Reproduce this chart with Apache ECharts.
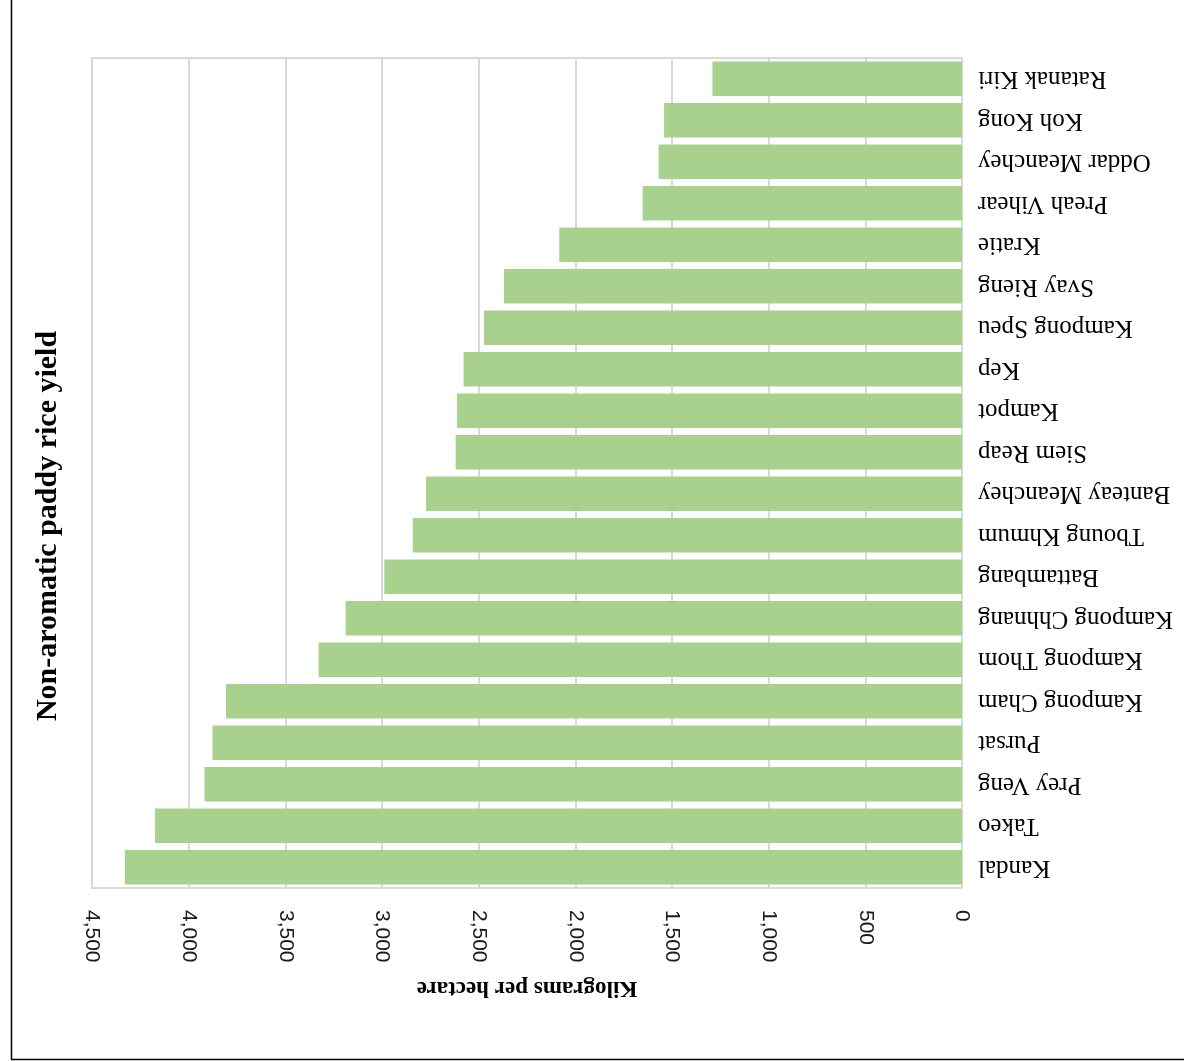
<!DOCTYPE html>
<html>
<head>
<meta charset="utf-8">
<script src="https://cdn.jsdelivr.net/npm/echarts@6/dist/echarts.min.js"></script>
<style>
html,body{margin:0;padding:0;background:#fff;}
#chart{width:1184px;height:1061px;}
</style>
</head>
<body>
<div id="chart"></div>
<script>
const provinces = ["Kandal","Takeo","Prey Veng","Pursat","Kampong Cham","Kampong Thom","Kampong Chhnang","Battambang","Tboung Khmum","Banteay Meanchey","Siem Reap","Kampot","Kep","Kampong Speu","Svay Rieng","Kratie","Preah Vihear","Oddar Meanchey","Koh Kong","Ratanak Kiri"];
const yieldKgPerHa = [4330,4174,3918,3877,3807,3328,3188,2988,2841,2772,2619,2612,2578,2472,2369,2083,1652,1569,1541,1291];
const titleText = "Non-aromatic paddy rice yield";
const axisTitle = "Kilograms per hectare";

const chart = echarts.init(document.getElementById('chart'), null, {renderer:'canvas'});
chart.setOption({
  backgroundColor:'#ffffff',
  animation:false,
  grid:{left:92,right:222,top:58,bottom:173,show:true,borderColor:'#d9d9d9',borderWidth:2,containLabel:false},
  xAxis:{
    type:'value', min:0, max:4500, interval:500, inverse:true, position:'bottom',
    axisLine:{show:false}, axisTick:{show:false},
    splitLine:{show:true,lineStyle:{color:'#d9d9d9',width:2}},
    axisLabel:{rotate:-90, margin:22, color:'#1a1a1a', fontFamily:'Liberation Sans', fontSize:21,
      formatter:function(v){return v.toLocaleString('en-US');}},
    name:axisTitle, nameLocation:'middle', nameRotate:180, nameGap:88,
    nameTextStyle:{fontFamily:'Liberation Serif', fontWeight:'bold', fontSize:23, color:'#000'}
  },
  yAxis:{
    type:'category', data:provinces, position:'right',
    axisLine:{show:false}, axisTick:{show:false}, splitLine:{show:false},
    axisLabel:{rotate:180, margin:16, color:'#000', fontFamily:'Liberation Serif', fontSize:25}
  },
  series:[{
    type:'bar', data:yieldKgPerHa, barCategoryGap:'17%',
    itemStyle:{color:'#a9d18e'}
  }],
  graphic:[
    {type:'text', x:48, y:526, rotation:Math.PI/2,
     style:{text:titleText, font:'bold 30px "Liberation Serif"', fill:'#000', align:'center', verticalAlign:'middle'}},
    {type:'line', shape:{x1:11.5,y1:0,x2:11.5,y2:1059.5}, style:{stroke:'#000',lineWidth:1.5}},
    {type:'line', shape:{x1:11,y1:1059.5,x2:1184,y2:1059.5}, style:{stroke:'#000',lineWidth:1.5}}
  ]
});
</script>
</body>
</html>
